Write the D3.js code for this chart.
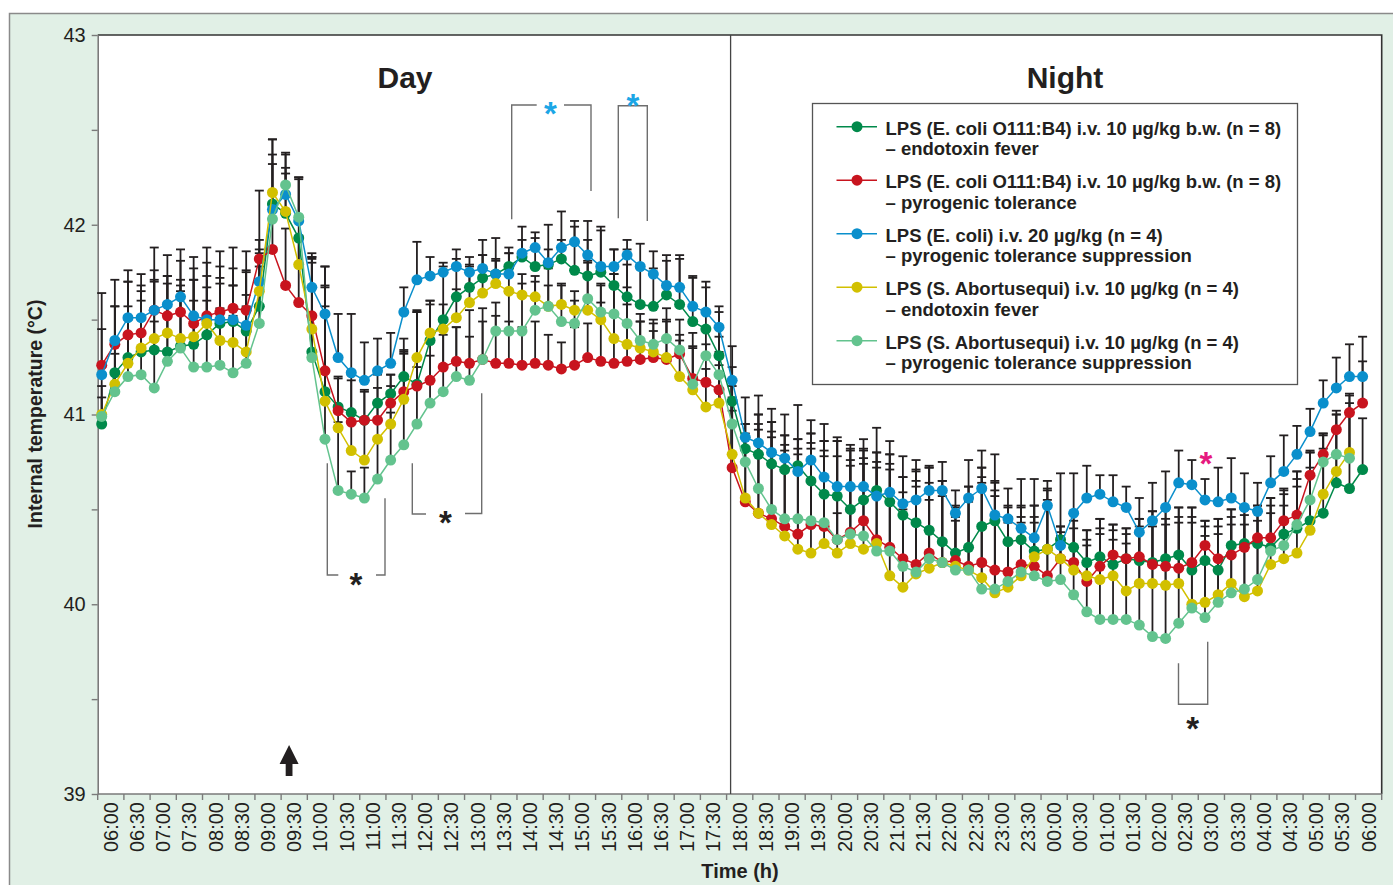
<!DOCTYPE html>
<html>
<head>
<meta charset="utf-8">
<script src="https://cdn.jsdelivr.net/npm/d3@7"></script>
<style>
  body { margin: 0; background: #fff; }
  svg { display: block; }
  text { font-family: "Liberation Sans", Arial, Helvetica, sans-serif; }
</style>
</head>
<body>
<svg id="chart" width="1393" height="885"></svg>
<script>
// tick labels, one per half hour (06:00 -> 06:00 next morning)
const timeLabels = ['06:00','06:30','07:00','07:30','08:00','08:30','09:00','09:30','10:00','10:30',
    '11:00','11:30','12:00','12:30','13:00','13:30','14:00','14:30','15:00','15:30','16:00','16:30',
    '17:00','17:30','18:00','18:30','19:00','19:30','20:00','20:30','21:00','21:30','22:00','22:30',
    '23:00','23:30','00:00','00:30','01:00','01:30','02:00','02:30','03:00','03:30','04:00','04:30',
    '05:00','05:30','06:00'];

const yTicks = [39, 39.5, 40, 40.5, 41, 41.5, 42, 42.5, 43];

// mean internal temperature (°C), one value every 15 min from 06:00
const ecoliFever = [
    40.95,41.22,41.30,41.33,41.34,41.33,41.36,41.37,41.42,41.48,41.49,41.44,
    41.57,42.11,42.06,41.93,41.33,41.12,41.04,41.01,40.97,41.06,41.11,41.20,
    41.16,41.39,41.50,41.62,41.67,41.72,41.74,41.78,41.83,41.78,41.79,41.82,
    41.76,41.73,41.75,41.68,41.62,41.58,41.57,41.63,41.58,41.49,41.45,41.31,
    41.07,40.82,40.79,40.74,40.71,40.73,40.65,40.58,40.57,40.50,40.55,40.60,
    40.54,40.47,40.43,40.39,40.33,40.27,40.30,40.41,40.44,40.33,40.34,40.28,
    40.29,40.34,40.30,40.22,40.25,40.21,40.24,40.23,40.22,40.24,40.26,40.18,
    40.23,40.18,40.31,40.32,40.32,40.30,40.37,40.40,40.44,40.48,40.64,40.61,
    40.71];
const ecoliTolerance = [
    41.26,41.37,41.42,41.43,41.55,41.52,41.54,41.48,41.52,41.54,41.56,41.55,
    41.82,41.87,41.68,41.59,41.52,41.23,41.02,40.96,40.97,40.97,41.06,41.12,
    41.15,41.18,41.25,41.28,41.27,41.29,41.27,41.27,41.26,41.27,41.26,41.24,
    41.26,41.30,41.28,41.27,41.28,41.29,41.30,41.29,41.32,41.19,41.17,41.13,
    40.72,40.54,40.48,40.45,40.41,40.37,40.42,40.41,40.34,40.38,40.44,40.34,
    40.30,40.24,40.21,40.27,40.22,40.23,40.20,40.22,40.18,40.17,40.21,40.20,
    40.15,40.24,40.22,40.12,40.20,40.26,40.24,40.25,40.21,40.20,40.19,40.22,
    40.31,40.24,40.26,40.30,40.35,40.35,40.44,40.47,40.68,40.79,40.92,41.01,
    41.06];
const ecoliSuppression = [
    41.21,41.39,41.51,41.51,41.55,41.58,41.62,41.52,41.50,41.50,41.50,41.47,
    41.70,42.08,42.16,42.02,41.67,41.53,41.30,41.22,41.18,41.23,41.27,41.54,
    41.71,41.73,41.75,41.78,41.75,41.77,41.74,41.74,41.85,41.88,41.80,41.88,
    41.91,41.84,41.78,41.78,41.84,41.78,41.74,41.68,41.67,41.57,41.54,41.46,
    41.18,40.88,40.85,40.80,40.77,40.70,40.76,40.67,40.62,40.62,40.62,40.57,
    40.59,40.53,40.55,40.60,40.60,40.48,40.56,40.61,40.47,40.45,40.40,40.35,
    40.52,40.31,40.48,40.56,40.58,40.54,40.51,40.38,40.44,40.51,40.64,40.63,
    40.55,40.54,40.56,40.51,40.49,40.64,40.70,40.79,40.91,41.06,41.14,41.20,
    41.20];
const abortusFever = [
    41.00,41.16,41.27,41.35,41.40,41.43,41.40,41.41,41.48,41.39,41.38,41.33,
    41.65,42.17,42.07,41.79,41.45,41.07,40.93,40.81,40.76,40.87,40.95,41.08,
    41.30,41.43,41.45,41.51,41.59,41.64,41.69,41.65,41.63,41.62,41.57,41.58,
    41.55,41.55,41.50,41.40,41.37,41.35,41.33,41.30,41.20,41.13,41.04,41.06,
    40.79,40.56,40.48,40.42,40.36,40.29,40.27,40.32,40.27,40.32,40.29,40.32,
    40.15,40.09,40.16,40.19,40.22,40.20,40.18,40.14,40.06,40.09,40.15,40.25,
    40.29,40.24,40.18,40.15,40.13,40.15,40.07,40.11,40.11,40.10,40.11,40.00,
    40.01,40.05,40.11,40.04,40.07,40.21,40.24,40.27,40.39,40.58,40.70,40.80,
    null];
const abortusSuppression = [
    40.99,41.12,41.20,41.21,41.14,41.28,41.35,41.25,41.25,41.26,41.22,41.27,
    41.48,42.03,42.21,42.04,41.30,40.87,40.60,40.58,40.56,40.66,40.76,40.84,
    40.95,41.06,41.12,41.20,41.18,41.29,41.44,41.44,41.44,41.55,41.57,41.49,
    41.48,41.61,41.54,41.53,41.48,41.39,41.37,41.40,41.34,41.16,41.31,41.21,
    40.95,40.75,40.61,40.50,40.45,40.45,40.44,40.43,40.34,40.37,40.36,40.28,
    40.28,40.20,40.17,40.24,40.22,40.18,40.18,40.08,40.08,40.12,40.17,40.15,
    40.12,40.13,40.05,39.96,39.92,39.92,39.92,39.89,39.83,39.82,39.90,39.98,
    39.93,40.01,40.06,40.08,40.13,40.28,40.31,40.42,40.55,40.75,40.79,40.77,
    null];

// upper error (SD) for each point
const ecoliFeverSd = [
    0.30,0.35,0.40,0.35,0.42,0.40,0.45,0.40,0.38,0.30,0.28,0.32,
    0.30,0.21,0.24,0.32,0.50,0.66,
    0.15,0.20,0.15,0.15,0.10,0.20,0.38,0.21,
    0.28,0.20,0.11,0.12,0.07,0.07,0.09,0.15,0.08,0.10,0.23,0.19,0.22,0.19,0.25,0.20,0.20,0.18,0.24,0.23,0.22,0.23,0.18,
    0.13,0.21,0.22,0.18,0.14,0.25,0.28,0.29,0.31,0.26,0.20,0.25,0.20,0.28,0.33,0.32,0.25,0.32,0.31,0.20,0.19,0.18,0.24,0.32,
    0.07,0.18,0.17,0.20,0.21,0.16,0.22,0.27,0.26,0.25,0.33,0.21,0.27,0.19,0.18,0.20,0.26,0.24,0.30,0.37,0.42,0.36,0.45,0.27];
const ecoliToleranceSd = [
    0.19,0.20,0.28,0.22,0.16,0.17,0.17,0.23,0.15,0.18,0.12,0.20,
    0.10,0.20,0.30,0.35,0.30,0.45,
    0.18,0.22,0.16,0.17,0.15,0.20,0.39,0.40,
    0.25,0.18,0.28,0.27,0.25,0.22,0.20,0.22,0.16,0.14,0.20,0.18,0.31,0.25,0.30,0.20,0.20,0.20,0.10,0.16,0.20,0.20,0.30,
    0.36,0.47,0.46,0.43,0.45,0.43,0.40,0.14,0.38,0.33,0.41,0.44,0.26,0.44,0.28,0.38,0.23,0.37,0.45,0.42,0.29,0.25,0.26,0.40,
    0.14,0.22,0.22,0.20,0.13,0.13,0.16,0.23,0.25,0.27,0.24,0.10,0.17,0.20,0.17,0.14,0.17,0.14,0.19,0.12,0.10,0.10,0.10,0.22];
const ecoliSuppressionSd = [
    0.43,0.32,0.25,0.23,0.33,0.26,0.25,0.31,0.38,0.36,0.38,0.39,
    0.48,0.37,0.21,0.23,0.16,0.25,
    0.23,0.31,0.20,0.17,0.16,0.13,0.20,0.10,
    0.05,0.09,0.08,0.15,0.19,0.14,0.14,0.08,0.20,0.19,0.11,0.18,0.21,0.09,0.08,0.12,0.12,0.16,0.17,0.16,0.16,0.11,0.18,
    0.21,0.25,0.23,0.23,0.35,0.21,0.28,0.26,0.22,0.25,0.36,0.27,0.25,0.21,0.13,0.15,0.12,0.20,0.20,0.32,0.16,0.26,0.31,0.13,
    0.38,0.21,0.17,0.10,0.14,0.11,0.18,0.20,0.19,0.17,0.13,0.11,0.18,0.21,0.18,0.15,0.14,0.19,0.15,0.12,0.12,0.16,0.17,0.21];
const abortusFeverSd = [
    0.15,0.20,0.30,0.25,0.30,0.30,0.28,0.30,0.25,0.30,0.30,0.30,
    0.20,0.28,0.20,0.15,0.40,0.60,
    0.10,0.15,0.20,0.20,0.20,0.25,0.25,0.17,
    0.13,0.15,0.20,0.20,0.13,0.20,0.11,0.11,0.11,0.10,0.10,0.25,0.18,0.34,0.30,0.14,0.15,0.20,0.19,0.30,0.20,0.20,0.30,
    0.31,0.44,0.46,0.45,0.50,0.55,0.46,0.51,0.41,0.45,0.40,0.56,0.50,0.46,0.45,0.35,0.24,0.36,0.50,0.51,0.34,0.28,0.18,0.23,
    0.12,0.22,0.16,0.24,0.19,0.25,0.26,0.30,0.32,0.32,0.43,0.35,0.32,0.31,0.38,0.37,0.27,0.28,0.35,0.33,0.24,0.22,0.22,null];
const abortusSuppressionSd = [
    0.10,0.20,0.30,0.30,0.35,0.30,0.30,0.35,0.35,0.30,0.30,0.30,
    0.30,0.34,0.17,0.20,0.50,0.70,
    0.36,0.12,0.16,0.20,0.25,0.50,0.30,0.25,
    0.30,0.26,0.23,0.20,0.15,0.20,0.25,0.15,0.20,0.20,0.12,0.20,0.15,0.21,0.31,0.14,0.07,0.16,0.16,0.20,0.15,0.20,0.20,
    0.20,0.39,0.46,0.44,0.42,0.46,0.43,0.52,0.45,0.46,0.52,0.51,0.47,0.53,0.48,0.43,0.33,0.44,0.64,0.57,0.39,0.34,0.37,0.48,
    0.28,0.43,0.43,0.53,0.50,0.48,0.56,0.66,0.68,0.61,0.53,0.51,0.44,0.44,0.42,0.39,0.28,0.29,0.28,0.25,0.15,0.21,0.33,null];

const seriesInfo = [
    {values: ecoliFever, sd: ecoliFeverSd, color: '#00894a',
        label: ['LPS (E. coli O111:B4) i.v. 10 µg/kg b.w. (n = 8)', '– endotoxin fever']},
    {values: ecoliTolerance, sd: ecoliToleranceSd, color: '#c8141e',
        label: ['LPS (E. coli O111:B4) i.v. 10 µg/kg b.w. (n = 8)', '– pyrogenic tolerance']},
    {values: ecoliSuppression, sd: ecoliSuppressionSd, color: '#0a8fcc',
        label: ['LPS (E. coli) i.v. 20 µg/kg (n = 4)', '– pyrogenic tolerance suppression']},
    {values: abortusFever, sd: abortusFeverSd, color: '#d2c000',
        label: ['LPS (S. Abortusequi) i.v. 10 µg/kg (n = 4)', '– endotoxin fever']},
    {values: abortusSuppression, sd: abortusSuppressionSd, color: '#63c38e',
        label: ['LPS (S. Abortusequi) i.v. 10 µg/kg (n = 4)', '– pyrogenic tolerance suppression']}
];

const plot = {left: 97.7, right: 1381.7, top: 35, bottom: 794};
const ink = '#231f20';

const svg = d3.select('#chart');

// panels
svg.append('rect')
    .attr('x', 9.5).attr('y', 13.5)
    .attr('width', 1400).attr('height', 900)
    .attr('fill', '#e1f0e6')
    .attr('stroke', '#8a8a8a')
    .attr('stroke-width', 1.5);

svg.append('rect')
    .attr('x', plot.left).attr('y', plot.top)
    .attr('width', plot.right - plot.left).attr('height', plot.bottom - plot.top)
    .attr('fill', '#fff');

const yScale = d3.scaleLinear().domain([39, 43]).range([plot.bottom, plot.top]);
const xBand = d3.scaleBand().domain(d3.range(timeLabels.length)).range([plot.left, plot.right]);
const xPoint = d3.scaleLinear().domain([0, ecoliFever.length - 1]).range([101.7, 1362.6]);

// top / right frame
svg.append('path')
    .attr('d', `M${plot.left},${plot.top}H${plot.right}V${plot.bottom}`)
    .attr('fill', 'none').attr('stroke', '#333').attr('stroke-width', 1.6);

// y axis
svg.append('g')
    .attr('transform', `translate(${plot.left},0)`)
    .call(d3.axisLeft(yScale).tickValues(yTicks).tickSize(6).tickSizeOuter(0).tickPadding(6)
        .tickFormat(d => d % 1 === 0 ? d : ''))
    .call(g => g.select('.domain').attr('stroke', '#7a7a7a').attr('stroke-width', 1.6))
    .call(g => g.selectAll('.tick line').attr('stroke', '#7a7a7a').attr('stroke-width', 1.4))
    .call(g => g.selectAll('.tick text')
        .attr('font-size', 20).attr('fill', ink)
        .attr('font-family', '"Liberation Sans", Arial, sans-serif'));

// x axis: ticks on half-hour boundaries, labels centred in between
const xAxis = svg.append('g');
xAxis.append('line')
    .attr('x1', plot.left).attr('x2', plot.right)
    .attr('y1', plot.bottom).attr('y2', plot.bottom)
    .attr('stroke', '#7a7a7a').attr('stroke-width', 1.6);
xAxis.selectAll('.xtick')
    .data(d3.range(timeLabels.length + 1))
    .join('line')
    .attr('class', 'xtick')
    .attr('x1', i => i < timeLabels.length ? xBand(i) : plot.right)
    .attr('x2', i => i < timeLabels.length ? xBand(i) : plot.right)
    .attr('y1', plot.bottom).attr('y2', plot.bottom + 6)
    .attr('stroke', '#7a7a7a').attr('stroke-width', 1.4);
xAxis.selectAll('.xlabel')
    .data(timeLabels)
    .join('text')
    .attr('class', 'xlabel')
    .attr('transform', (d, i) => `translate(${xBand(i) + xBand.bandwidth() / 2 + 7},802) rotate(-90)`)
    .attr('text-anchor', 'end')
    .attr('font-size', 20)
    .attr('fill', ink)
    .text(d => d);

// axis titles
svg.append('text')
    .attr('transform', 'translate(42,414) rotate(-90)')
    .attr('text-anchor', 'middle')
    .attr('font-size', 19.5).attr('font-weight', 'bold').attr('fill', ink)
    .text('Internal temperature (°C)');
svg.append('text')
    .attr('x', 740).attr('y', 878)
    .attr('text-anchor', 'middle')
    .attr('font-size', 20).attr('font-weight', 'bold').attr('fill', ink)
    .text('Time (h)');

// day / night divider at 18:00
svg.append('line')
    .attr('x1', xBand(24) + 4).attr('x2', xBand(24) + 4)
    .attr('y1', plot.top).attr('y2', plot.bottom)
    .attr('stroke', '#444').attr('stroke-width', 1.3);

svg.append('text').attr('x', 405).attr('y', 88)
    .attr('text-anchor', 'middle').attr('font-size', 30).attr('font-weight', 'bold').attr('fill', ink)
    .text('Day');
svg.append('text').attr('x', 1065).attr('y', 88)
    .attr('text-anchor', 'middle').attr('font-size', 30).attr('font-weight', 'bold').attr('fill', ink)
    .text('Night');

// error bars (upper SD) for every series
const bars = [];
seriesInfo.forEach(s => {
    s.values.forEach((v, i) => {
        if (v !== null && s.sd[i] !== null) bars.push({i: i, v: v, top: v + s.sd[i]});
    });
});
const barG = svg.append('g');
barG.selectAll('.bar')
    .data(bars)
    .join('line')
    .attr('x1', d => xPoint(d.i)).attr('x2', d => xPoint(d.i))
    .attr('y1', d => yScale(d.v)).attr('y2', d => yScale(d.top))
    .attr('stroke', ink).attr('stroke-width', 1.8);
barG.selectAll('.cap')
    .data(bars)
    .join('line')
    .attr('x1', d => xPoint(d.i) - 4.5).attr('x2', d => xPoint(d.i) + 4.5)
    .attr('y1', d => yScale(d.top)).attr('y2', d => yScale(d.top))
    .attr('stroke', ink).attr('stroke-width', 1.8);

// series
const line = d3.line()
    .defined(d => d !== null)
    .x((d, i) => xPoint(i))
    .y(d => yScale(d));

seriesInfo.forEach(s => {
    const g = svg.append('g');
    g.append('path')
        .attr('d', line(s.values))
        .attr('fill', 'none')
        .attr('stroke', s.color)
        .attr('stroke-width', 1.5);
    g.selectAll('circle')
        .data(s.values.map((v, i) => ({v: v, i: i})).filter(d => d.v !== null))
        .join('circle')
        .attr('cx', d => xPoint(d.i))
        .attr('cy', d => yScale(d.v))
        .attr('r', 5.5)
        .attr('fill', s.color);
});

// significance brackets
const brackets = [
    'M327.3,463.3V575H338.3 M376,575H385V498.3',
    'M412.3,463.3V514H426 M465,513.5H481.7V393.3',
    'M511.7,219.3V105H536.7 M564,105H591V191',
    'M618.3,218.3V105.7H647.3V221',
    'M1178.5,663.3V704.3H1207.7V641.7'
];
svg.selectAll('.bracket')
    .data(brackets)
    .join('path')
    .attr('d', d => d)
    .attr('fill', 'none')
    .attr('stroke', '#6e6e6e')
    .attr('stroke-width', 1.4);

const stars = [
    {x: 356, y: 577, color: ink},
    {x: 445.5, y: 515, color: ink},
    {x: 550.5, y: 106, color: '#1ba6e6'},
    {x: 632.8, y: 98, color: '#1ba6e6'},
    {x: 1206, y: 456, color: '#e6197f'},
    {x: 1192.7, y: 721, color: ink}
];
svg.selectAll('.star')
    .data(stars)
    .join('text')
    .attr('x', d => d.x)
    .attr('y', d => d.y + 19)
    .attr('text-anchor', 'middle')
    .attr('font-size', 33)
    .attr('font-weight', 'bold')
    .attr('fill', d => d.color)
    .text('*');

// injection arrow at 09:30
const arrowX = xPoint(14) + 3.5;
svg.append('path')
    .attr('d', `M${arrowX},745 L${arrowX + 9.5},764 H${arrowX + 3.4} V776 H${arrowX - 3.4} V764 H${arrowX - 9.5} Z`)
    .attr('fill', ink);

// legend
const legend = svg.append('g');
legend.append('rect')
    .attr('x', 812.5).attr('y', 103.5)
    .attr('width', 485).attr('height', 281)
    .attr('fill', '#fff')
    .attr('stroke', '#555').attr('stroke-width', 1.3);

const items = legend.selectAll('.item')
    .data(seriesInfo)
    .join('g')
    .attr('transform', (d, i) => `translate(0,${126.7 + i * 53.5})`);
items.append('line')
    .attr('x1', 836.5).attr('x2', 877)
    .attr('stroke', d => d.color).attr('stroke-width', 1.6);
items.append('circle')
    .attr('cx', 857).attr('r', 5.5)
    .attr('fill', d => d.color);
items.append('text')
    .attr('x', 885.5).attr('y', 8)
    .attr('font-size', 18.5).attr('font-weight', 'bold').attr('fill', ink)
    .text(d => d.label[0]);
items.append('text')
    .attr('x', 885.5).attr('y', 28.5)
    .attr('font-size', 18.5).attr('font-weight', 'bold').attr('fill', ink)
    .text(d => d.label[1]);
</script>
</body>
</html>
